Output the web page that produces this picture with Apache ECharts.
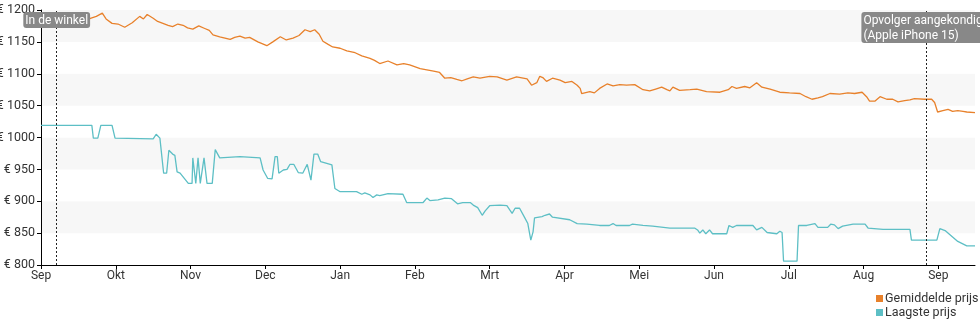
<!DOCTYPE html>
<html><head><meta charset="utf-8">
<script src="https://cdn.jsdelivr.net/npm/echarts@6/dist/echarts.min.js"></script>
<style>html,body{margin:0;padding:0;background:#fff}#c{width:980px;height:325px}</style>
</head><body><div id="c"></div>
<script>
// x values are in months since 1 Sep (tick every month)
const monthLabels = ['Sep','Okt','Nov','Dec','Jan','Feb','Mrt','Apr','Mei','Jun','Jul','Aug','Sep'];
const yTicks = [800, 850, 900, 950, 1000, 1050, 1100, 1150, 1200];
const seriesNames = ['Gemiddelde prijs', 'Laagste prijs'];

const avgPrice = [
[0.00,1176],[0.12,1177],[0.21,1175],[0.32,1178],[0.45,1176],[0.59,1180],[0.66,1187],[0.74,1190],[0.82,1195],[0.87,1186],
[0.95,1179],[1.03,1178],[1.12,1173],[1.22,1180],[1.32,1190],[1.37,1186],[1.42,1193],[1.50,1187],[1.56,1182],[1.63,1179],
[1.70,1176],[1.76,1174],[1.83,1178],[1.90,1176],[1.96,1172],[2.03,1170],[2.11,1175],[2.19,1171],[2.25,1168],[2.30,1161],
[2.39,1158],[2.53,1154],[2.59,1157],[2.66,1159],[2.73,1156],[2.79,1157],[2.90,1150],[3.02,1144],[3.10,1150],[3.20,1158],
[3.28,1153],[3.37,1156],[3.45,1160],[3.53,1169],[3.60,1166],[3.66,1169],[3.72,1162],[3.77,1151],[3.84,1146],[3.90,1142],
[4.00,1140],[4.09,1136],[4.20,1133],[4.29,1128],[4.40,1124],[4.46,1121],[4.53,1116],[4.64,1120],[4.76,1114],[4.85,1116],
[4.93,1114],[5.07,1108],[5.16,1106],[5.25,1104],[5.33,1102],[5.40,1093],[5.48,1094],[5.56,1091],[5.63,1089],[5.70,1092],
[5.78,1095],[5.87,1093],[6.00,1096],[6.10,1095],[6.23,1090],[6.36,1095],[6.50,1092],[6.56,1082],[6.63,1086],[6.67,1096],
[6.71,1094],[6.76,1088],[6.84,1093],[6.94,1090],[7.01,1086],[7.10,1088],[7.17,1082],[7.21,1077],[7.23,1069],[7.34,1072],
[7.40,1070],[7.47,1077],[7.57,1084],[7.65,1081],[7.74,1083],[7.83,1082],[7.94,1083],[8.05,1075],[8.14,1073],[8.22,1076],
[8.30,1079],[8.37,1075],[8.41,1073],[8.45,1079],[8.54,1074],[8.68,1075],[8.77,1076],[8.90,1072],[9.08,1071],[9.19,1075],
[9.24,1080],[9.30,1077],[9.41,1080],[9.48,1078],[9.57,1086],[9.64,1079],[9.75,1076],[9.88,1071],[10.01,1070],[10.15,1069],
[10.23,1064],[10.31,1060],[10.39,1062],[10.45,1064],[10.55,1069],[10.68,1068],[10.79,1070],[10.88,1069],[10.98,1071],[11.04,1064],
[11.08,1057],[11.15,1057],[11.22,1064],[11.31,1060],[11.39,1060],[11.46,1056],[11.55,1058],[11.62,1059],[11.68,1061],[11.82,1060],
[11.91,1060],[11.95,1055],[11.99,1040],[12.06,1042],[12.13,1044],[12.19,1041],[12.26,1042],[12.33,1041],[12.38,1040],[12.49,1039]
];

const lowPrice = [
[0.00,1019],[0.68,1019],[0.70,999],[0.76,999],[0.80,1019],[0.95,1019],[0.99,999],[1.50,998],[1.54,1005],[1.59,999],
[1.64,944],[1.68,944],[1.71,980],[1.76,974],[1.79,972],[1.82,946],[1.86,944],[1.97,928],[2.02,928],[2.03,968],
[2.07,928],[2.10,968],[2.13,928],[2.15,928],[2.18,968],[2.22,928],[2.29,928],[2.33,981],[2.39,968],[2.66,970],
[2.93,968],[2.97,949],[3.03,936],[3.09,935],[3.13,970],[3.16,970],[3.18,944],[3.24,949],[3.29,950],[3.33,958],
[3.38,958],[3.44,945],[3.50,944],[3.56,958],[3.61,933],[3.65,974],[3.70,974],[3.74,962],[3.89,957],[3.93,920],
[4.00,915],[4.22,915],[4.29,911],[4.33,913],[4.40,910],[4.44,906],[4.49,910],[4.53,909],[4.64,912],[4.84,911],
[4.89,898],[5.11,898],[5.16,905],[5.20,901],[5.31,902],[5.40,905],[5.49,904],[5.57,896],[5.64,898],[5.74,898],
[5.78,894],[5.84,890],[5.90,878],[5.94,885],[6.00,893],[6.14,894],[6.23,893],[6.30,881],[6.34,889],[6.40,889],
[6.47,874],[6.51,865],[6.55,839],[6.58,852],[6.60,874],[6.70,876],[6.74,878],[6.80,880],[6.84,875],[7.07,871],
[7.17,865],[7.30,864],[7.47,862],[7.60,862],[7.65,865],[7.69,862],[7.87,862],[7.91,864],[8.05,862],[8.18,861],
[8.41,858],[8.74,858],[8.78,855],[8.81,850],[8.85,855],[8.89,849],[8.94,855],[8.98,849],[9.17,849],[9.20,862],
[9.25,859],[9.30,862],[9.52,862],[9.57,855],[9.64,859],[9.71,851],[9.84,849],[9.88,853],[9.91,851],[9.93,806],
[10.11,806],[10.13,862],[10.24,862],[10.35,865],[10.39,859],[10.52,859],[10.56,864],[10.61,863],[10.66,857],[10.72,861],
[10.86,864],[11.02,864],[11.06,858],[11.26,856],[11.62,856],[11.64,839],[11.98,839],[12.02,857],[12.09,854],[12.19,844],
[12.26,837],[12.38,830],[12.49,830]
];

const events = [
  {x: 0.21, label: 'In de winkel', align: 'center', shift: 0},
  {x: 11.84, label: 'Opvolger aangekondigd\n(Apple iPhone 15)', align: 'left', shift: -65}
];

const font = 'Roboto, "DejaVu Sans", sans-serif';
const colors = ['#e8812b', '#5dbfc5'];
const legendBase = {
  orient: 'vertical', left: 871, itemWidth: 7, itemHeight: 7, itemGap: 3,
  icon: 'rect', textStyle: {fontSize: 12.5, color: '#333', fontFamily: font, padding: [0, 0, 0, -3]}
};
const chart = echarts.init(document.getElementById('c'), null, {renderer: 'canvas'});
chart.setOption({
  animation: false,
  textStyle: {fontFamily: font},
  grid: {left: 41, right: 5, top: 10, bottom: 60, containLabel: false, outerBoundsMode: 'none'},
  legend: [
    Object.assign({}, legendBase, {top: 287, data: [seriesNames[0]]}),
    Object.assign({}, legendBase, {top: 301, data: [seriesNames[1]]})
  ],
  xAxis: {
    type: 'value', min: 0, max: 12.49, interval: 1,
    axisLine: {lineStyle: {color: '#000', width: 1}},
    axisTick: {length: 4, lineStyle: {color: '#000'}},
    axisLabel: {
      color: '#333', fontSize: 12, fontFamily: font, margin: 5,
      showMaxLabel: false,
      formatter: v => (Number.isInteger(v) ? (monthLabels[v] || '') : '')
    },
    splitLine: {show: false}
  },
  yAxis: {
    type: 'value', min: yTicks[0], max: yTicks[yTicks.length - 1], interval: 50,
    axisLine: {show: true, lineStyle: {color: '#000', width: 1}},
    axisTick: {show: true, length: 4, lineStyle: {color: '#000'}},
    axisLabel: {color: '#333', fontSize: 12.5, fontFamily: font, margin: 6, formatter: v => '€ ' + v},
    splitLine: {show: false},
    splitArea: {show: true, areaStyle: {color: ['#ffffff', '#f7f7f7']}}
  },
  series: [
    {
      name: seriesNames[0], type: 'line', data: avgPrice, showSymbol: false, symbol: 'none',
      color: colors[0], lineStyle: {width: 1.3, color: colors[0]}, z: 3,
      markLine: {
        silent: true, symbol: 'none', animation: false,
        lineStyle: {color: '#222', type: [2, 2], width: 1},
        label: {
          show: true, position: 'end', distance: -2, verticalAlign: 'top',
          color: '#fff', fontSize: 12, fontFamily: font, lineHeight: 15,
          backgroundColor: '#888', borderRadius: 3, padding: [1, 2, 0, 2],
          formatter: p => p.name
        },
        data: events.map(e => [
          {xAxis: e.x, yAxis: yTicks[0], name: e.label,
           label: {align: e.align, offset: [e.shift, 0]}},
          {xAxis: e.x, yAxis: yTicks[yTicks.length - 1]}
        ])
      }
    },
    {
      name: seriesNames[1], type: 'line', data: lowPrice, showSymbol: false, symbol: 'none',
      color: colors[1], lineStyle: {width: 1.3, color: colors[1]}, z: 2
    }
  ]
});
</script></body></html>
